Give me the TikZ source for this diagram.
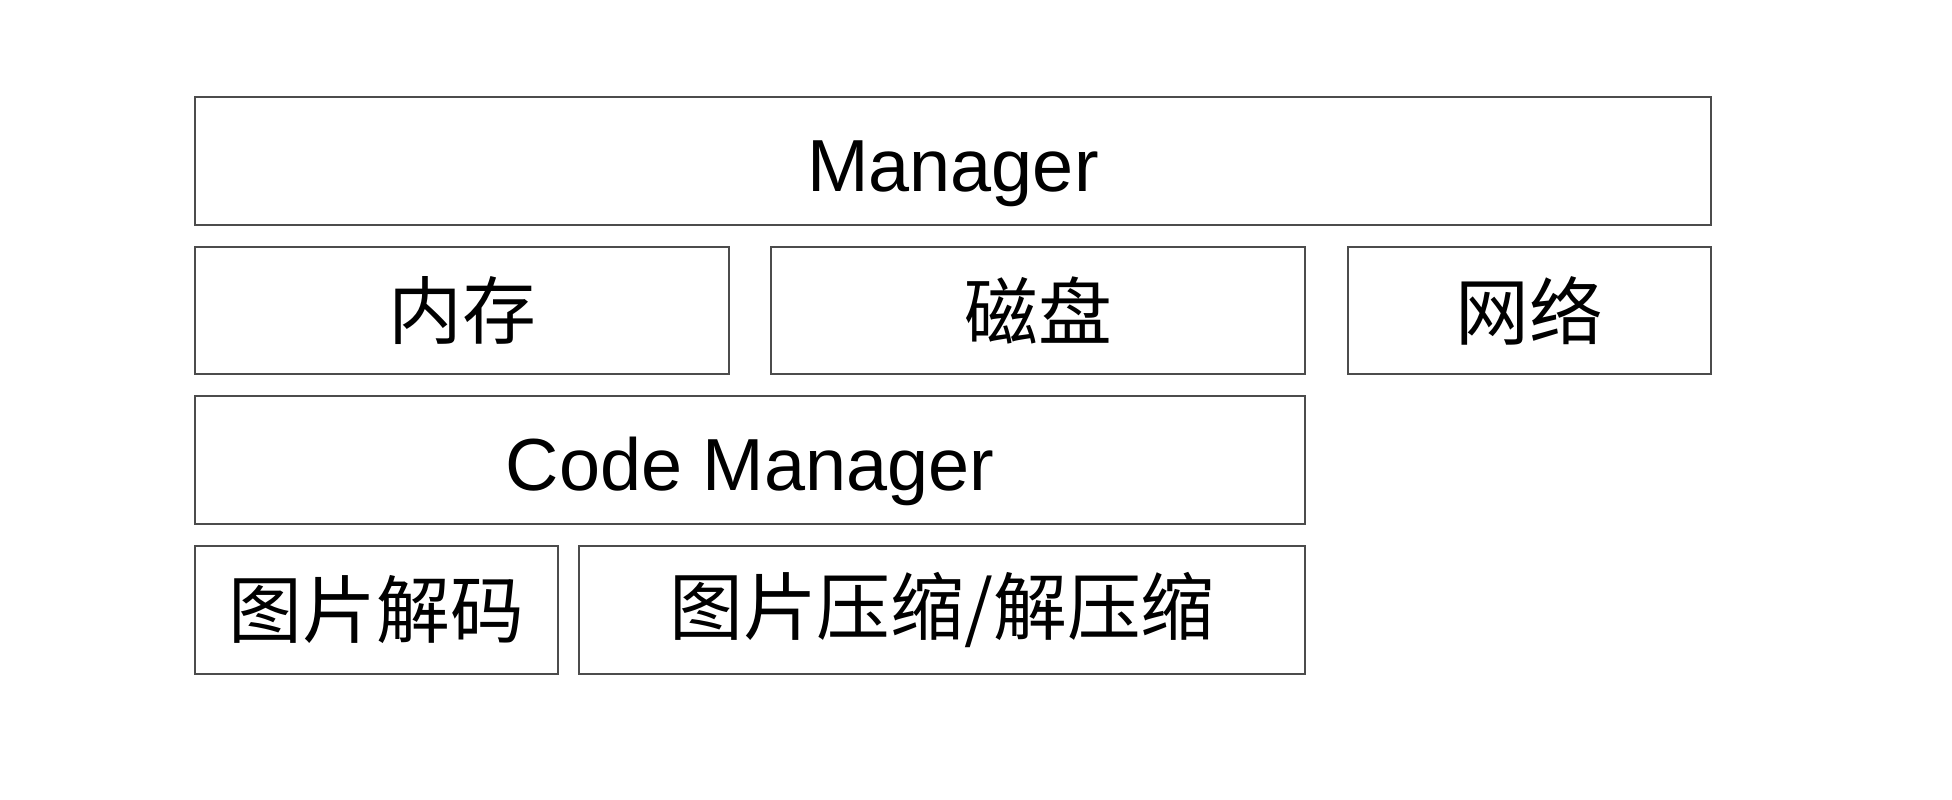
\documentclass[tikz,border=0pt]{standalone}
\usepackage{fontspec}
\setmainfont{Liberation Sans}
\newfontfamily\cjk{Noto Sans CJK SC}

\tikzset{
  layer/.style={draw=black!70, line width=0.04cm, inner sep=0pt,
    minimum height=2.55cm, font=\fontsize{42}{50}\selectfont},
  latin/.style={text height=1.22cm, text depth=0pt},
}

\begin{document}
\begin{tikzpicture}
  \useasboundingbox (0,0) rectangle (39.04,-16);
  \node[layer, latin, minimum width=30.32cm] (mgr) at (19.06,-3.22) {Manager};
  \node[layer, minimum width=10.68cm] (mem) at (9.24,-6.21) {\cjk 内存};
  \node[layer, minimum width=10.68cm] (disk) at (20.76,-6.21) {\cjk 磁盘};
  \node[layer, minimum width=7.26cm] (net) at (30.59,-6.21) {\cjk 网络};
  \node[layer, latin, minimum width=22.2cm] (codemgr) at (15.0,-9.2) {Code Manager};
  \node[layer, minimum width=7.26cm] (decode) at (7.53,-12.2) {\cjk 图片解码};
  \node[layer, minimum width=14.52cm] (zip) at (18.84,-12.2) {\cjk 图片压缩/解压缩};
\end{tikzpicture}
\end{document}
